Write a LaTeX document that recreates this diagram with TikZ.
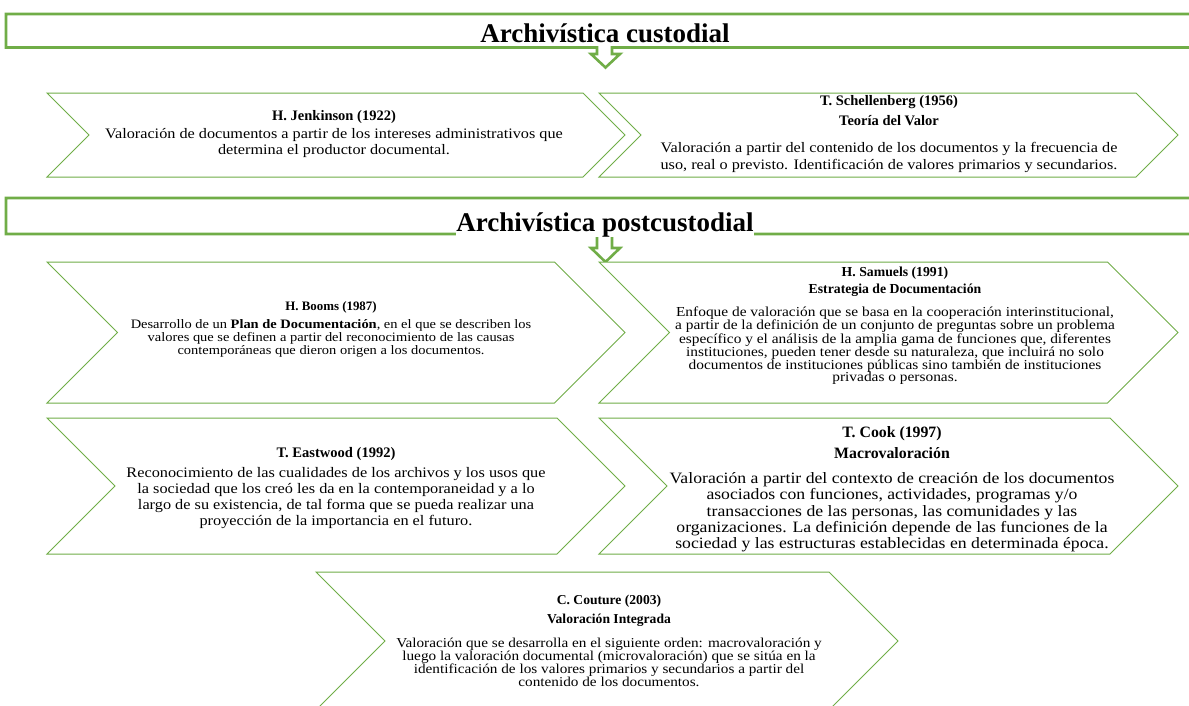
\documentclass[tikz,border=0pt]{standalone}
\usepackage{fontspec}
\setmainfont{Liberation Serif}
\newfontfamily\bodyfont{Liberation Serif}[FakeStretch=1.12]
\usetikzlibrary{positioning}
\definecolor{leafgreen}{HTML}{70AD47}

% banner with the small down arrow: top, bottom, head top, tip
\newcommand{\bannerbox}[4]{%
  \draw[banner] (6,#1) -- (1200,#1) -- (1200,#2) -- (612,#2) -- (612,#3)
    -- (620,#3) -- (605.5,#4) -- (591,#3) -- (597,#3) -- (597,#2) -- (6,#2) -- cycle;}
% chevron: left x, top y, tip x, bottom y
\newcommand{\chevron}[4]{%
  \draw[chevline] (#1,#2) -- ({#3-(#4-#2)/2},#2) -- (#3,{(#2+#4)/2})
    -- ({#3-(#4-#2)/2},#4) -- (#1,#4) -- ({#1+(#4-#2)/2},{(#2+#4)/2}) -- cycle;}
% bold heading lines, not stretched
\newcommand{\who}[1]{\textbf{\rmfamily #1}}

\tikzset{
  banner/.style={draw=leafgreen, line width=2.6pt, fill=white},
  chevline/.style={draw=leafgreen, line width=1pt, fill=white},
  heading/.style={font=\bfseries\fontsize{27}{29}\selectfont, inner sep=0pt, anchor=base},
  blurb/.style={align=center, inner sep=0pt},
}

\begin{document}
\begin{tikzpicture}[x=1pt, y=-1pt]
  \useasboundingbox (0,0) rectangle (1189,705);
  \fill[white] (0,0) rectangle (1189,705);
  \clip (0,0) rectangle (1189,705);

  % custodial
  \bannerbox{14}{47.5}{54}{67.5}
  \node[heading] (custodial) at (605,42) {Archivística custodial};

  \chevron{47}{93}{625}{177}
  \chevron{599}{93}{1178}{177}
  \node[blurb, font=\bodyfont\fontsize{14.5}{15.5}\selectfont] (jenkinson) at (334,134)
    {\who{H. Jenkinson (1922)}\\[3pt]
     Valoración de documentos a partir de los intereses administrativos que\\
     determina el productor documental.};
  \node[blurb, font=\bodyfont\fontsize{14.5}{17}\selectfont] (schellenberg) at (889,134)
    {\who{T. Schellenberg (1956)}\\[3pt]
     \who{Teoría del Valor}\\[10pt]
     Valoración a partir del contenido de los documentos y la frecuencia de\\
     uso, real o previsto. Identificación de valores primarios y secundarios.};

  % postcustodial
  \bannerbox{198}{234}{248}{262}
  \node[heading, fill=white] (postcustodial) at (605,231) {Archivística postcustodial};

  \chevron{47}{262}{625}{403}
  \chevron{599}{262}{1178}{403}
  \node[blurb, font=\bodyfont\fontsize{12.9}{13}\selectfont] (booms) at (331,329)
    {\who{H. Booms (1987)}\\[5pt]
     Desarrollo de un \textbf{Plan de Documentación}, en el que se describen los\\
     valores que se definen a partir del reconocimiento de las causas\\
     contemporáneas que dieron origen a los documentos.};
  \node[blurb, font=\bodyfont\fontsize{13.75}{12.5}\selectfont] (samuels) at (895,326)
    {\who{H. Samuels (1991)}\\[4pt]
     \who{Estrategia de Documentación}\\[9pt]
     Enfoque de valoración que se basa en la cooperación interinstitucional,\\
     a partir de la definición de un conjunto de preguntas sobre un problema\\
     específico y el análisis de la amplia gama de funciones que, diferentes\\
     instituciones, pueden tener desde su naturaleza, que incluirá no solo\\
     documentos de instituciones públicas sino también de instituciones\\
     privadas o personas.};

  \chevron{47}{418}{625}{554}
  \chevron{599}{418}{1178}{554}
  \node[blurb, font=\bodyfont\fontsize{14.55}{16}\selectfont] (eastwood) at (336,488)
    {\who{T. Eastwood (1992)}\\[4pt]
     Reconocimiento de las cualidades de los archivos y los usos que\\
     la sociedad que los creó les da en la contemporaneidad y a lo\\
     largo de su existencia, de tal forma que se pueda realizar una\\
     proyección de la importancia en el futuro.};
  \node[blurb, font=\bodyfont\fontsize{15.8}{16.25}\selectfont] (cook) at (892,489)
    {\who{T. Cook (1997)}\\[5pt]
     \who{Macrovaloración}\\[9pt]
     Valoración a partir del contexto de creación de los documentos\\
     asociados con funciones, actividades, programas y/o\\
     transacciones de las personas, las comunidades y las\\
     organizaciones. La definición depende de las funciones de la\\
     sociedad y las estructuras establecidas en determinada época.};

  \chevron{316}{572}{898}{710}
  \node[blurb, font=\bodyfont\fontsize{13.6}{13}\selectfont] (couture) at (609,641)
    {\who{C. Couture (2003)}\\[6pt]
     \who{Valoración Integrada}\\[11pt]
     Valoración que se desarrolla en el siguiente orden: macrovaloración y\\
     luego la valoración documental (microvaloración) que se sitúa en la\\
     identificación de los valores primarios y secundarios a partir del\\
     contenido de los documentos.};
\end{tikzpicture}
\end{document}
